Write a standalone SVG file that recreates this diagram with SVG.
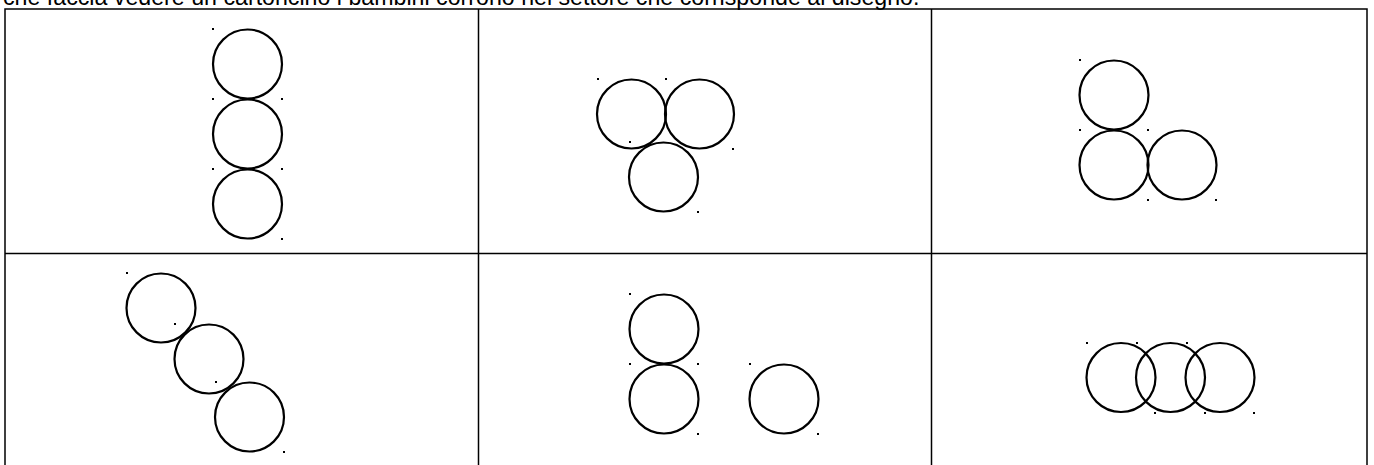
<svg xmlns="http://www.w3.org/2000/svg" width="1374" height="465" viewBox="0 0 1374 465">
<style>
.c{fill:none;stroke:#000;stroke-width:2.2}
.d{fill:#000}
.g{stroke:#000;stroke-width:1.5;fill:none}
.t{font-family:"Liberation Sans",Arial,sans-serif;font-size:23.2px;fill:#000}
</style>
<rect width="1374" height="465" fill="#fff"/>
<text class="t" x="3" y="5">che faccia vedere un cartoncino i bambini corrono nel settore che corrisponde al disegno.</text>
<g id="grid">
<path class="g" d="M5 465V9H1367V465M478.5 9V465M931.5 9V465M5 253.5H1367"/>
</g>
<g id="panel1">
<circle class="c" cx="247.5" cy="64" r="34.5"/>
<circle class="c" cx="247.5" cy="134" r="34.5"/>
<circle class="c" cx="247.5" cy="204" r="34.5"/>
<rect class="d" x="212" y="28" width="2" height="2"/><rect class="d" x="212" y="98" width="2" height="2"/><rect class="d" x="281" y="98" width="2" height="2"/><rect class="d" x="212" y="168" width="2" height="2"/><rect class="d" x="281" y="168" width="2" height="2"/><rect class="d" x="281" y="238" width="2" height="2"/>
</g>
<g id="panel2">
<circle class="c" cx="631.5" cy="114" r="34.5"/>
<circle class="c" cx="699.5" cy="114" r="34.5"/>
<circle class="c" cx="663.5" cy="177" r="34.5"/>
<rect class="d" x="597" y="78" width="2" height="2"/><rect class="d" x="665" y="78" width="2" height="2"/><rect class="d" x="629" y="141" width="2" height="2"/><rect class="d" x="732" y="148" width="2" height="2"/><rect class="d" x="697" y="211" width="2" height="2"/>
</g>
<g id="panel3">
<circle class="c" cx="1114" cy="95" r="34.5"/>
<circle class="c" cx="1114" cy="165" r="34.5"/>
<circle class="c" cx="1182" cy="165" r="34.5"/>
<rect class="d" x="1079" y="59" width="2" height="2"/><rect class="d" x="1079" y="129" width="2" height="2"/><rect class="d" x="1147" y="129" width="2" height="2"/><rect class="d" x="1147" y="199" width="2" height="2"/><rect class="d" x="1215" y="199" width="2" height="2"/>
</g>
<g id="panel4">
<circle class="c" cx="161" cy="308" r="34.5"/>
<circle class="c" cx="209" cy="359" r="34.5"/>
<circle class="c" cx="249.5" cy="417" r="34.5"/>
<rect class="d" x="126" y="272" width="2" height="2"/><rect class="d" x="174" y="323" width="2" height="2"/><rect class="d" x="215" y="381" width="2" height="2"/><rect class="d" x="283" y="451" width="2" height="2"/>
</g>
<g id="panel5">
<circle class="c" cx="664" cy="329" r="34.5"/>
<circle class="c" cx="664" cy="399" r="34.5"/>
<circle class="c" cx="784" cy="399" r="34.5"/>
<rect class="d" x="629" y="293" width="2" height="2"/><rect class="d" x="629" y="363" width="2" height="2"/><rect class="d" x="697" y="363" width="2" height="2"/><rect class="d" x="697" y="433" width="2" height="2"/><rect class="d" x="749" y="363" width="2" height="2"/><rect class="d" x="817" y="433" width="2" height="2"/>
</g>
<g id="panel6">
<circle class="c" cx="1121" cy="377.5" r="34.5"/>
<circle class="c" cx="1170.5" cy="377.5" r="34.5"/>
<circle class="c" cx="1220" cy="377.5" r="34.5"/>
<rect class="d" x="1086" y="342" width="2" height="2"/><rect class="d" x="1136" y="342" width="2" height="2"/><rect class="d" x="1186" y="342" width="2" height="2"/><rect class="d" x="1154" y="412" width="2" height="2"/><rect class="d" x="1204" y="412" width="2" height="2"/><rect class="d" x="1253" y="412" width="2" height="2"/>
</g>
</svg>
